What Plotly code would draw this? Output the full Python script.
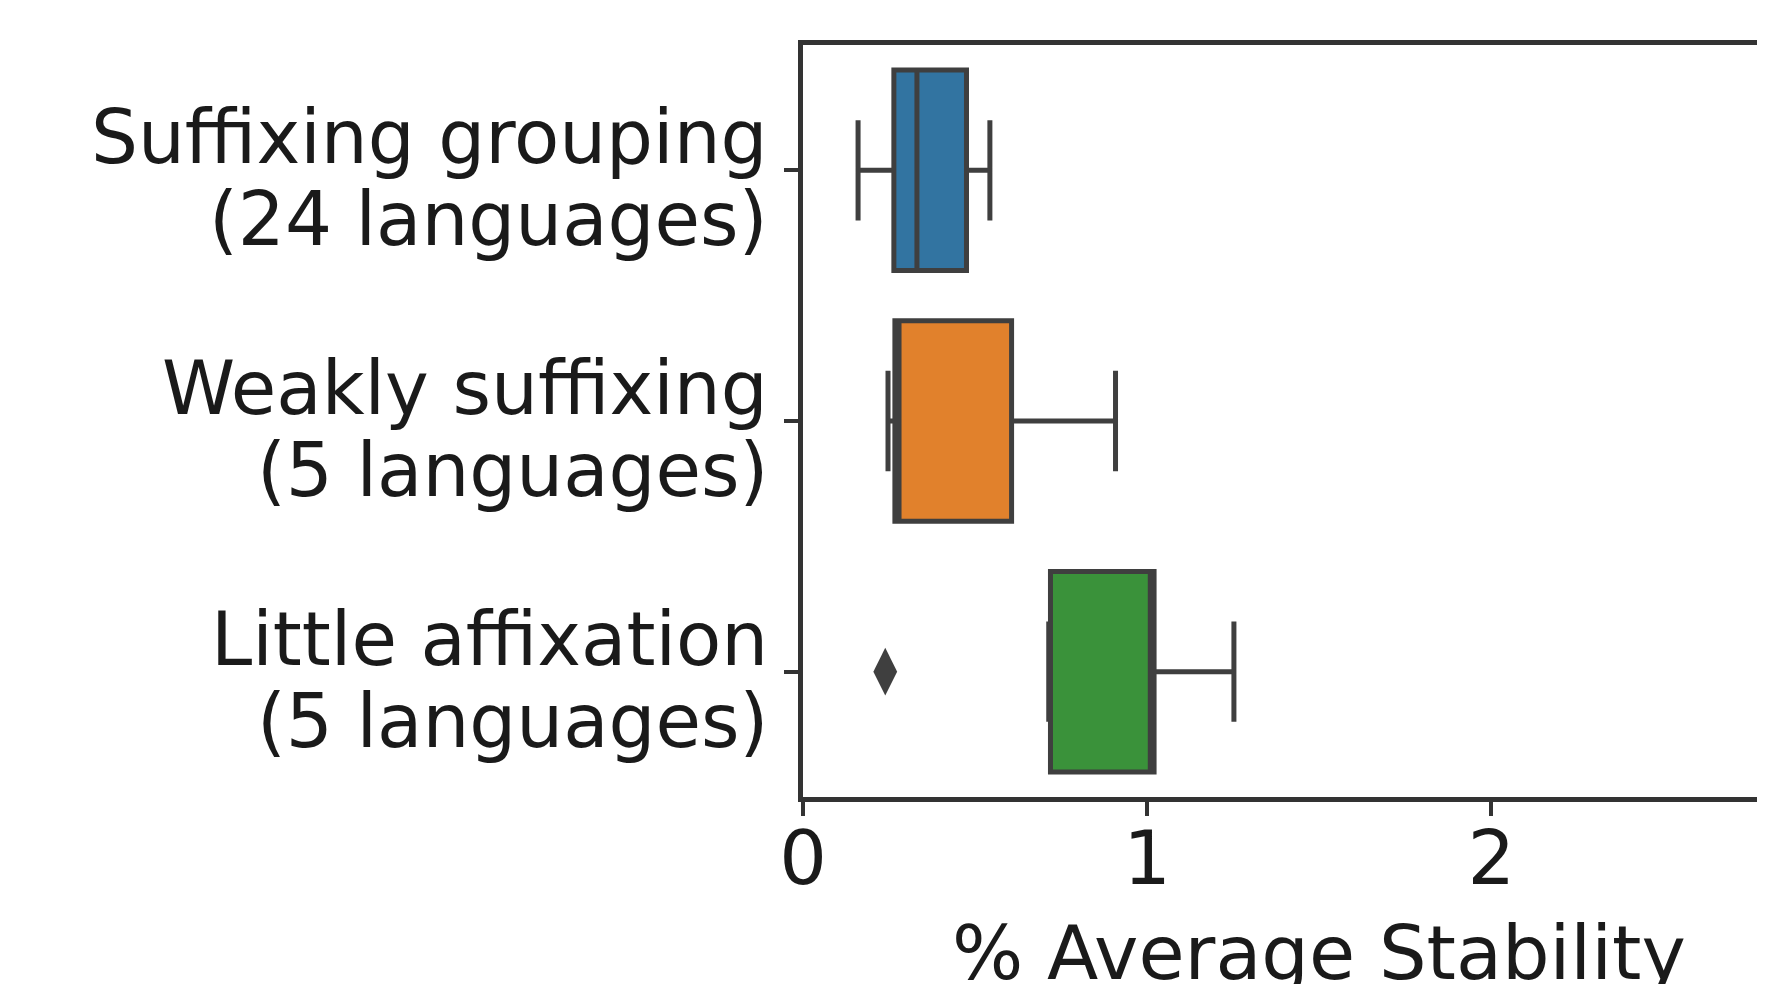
import plotly.graph_objects as go

categories = ["Suffixing grouping", "Weakly suffixing", "Little affixation"]
label_line1 = ["Suffixing grouping", "Weakly suffixing", "Little affixation"]
label_line2 = ["(24 languages)", "(5 languages)", "(5 languages)"]
lower_whisker = [0.160, 0.247, 0.714]
q1_vals = [0.264, 0.267, 0.719]
median_vals = [0.331, 0.279, 1.009]
q3_vals = [0.475, 0.606, 1.020]
upper_whisker = [0.543, 0.908, 1.252]
outlier_cats = ["Little affixation"]
outlier_vals = [0.239]
x_ticks = [0, 1, 2]
colors = ["#3274a1", "#e1812c", "#3a923a"]
edge = "#3f3f3f"
FONT = "DejaVu Sans"
TXT = "#1a1a1a"

fig = go.Figure()
for i, cat in enumerate(categories):
    fig.add_trace(go.Box(
        y=[cat], q1=[q1_vals[i]], median=[median_vals[i]], q3=[q3_vals[i]],
        lowerfence=[lower_whisker[i]], upperfence=[upper_whisker[i]],
        orientation="h", width=0.8, whiskerwidth=0.5,
        fillcolor=colors[i], line=dict(color=edge, width=5),
        boxpoints=False, showlegend=False, hoverinfo="skip",
    ))

fig.add_trace(go.Scatter(
    x=outlier_vals, y=outlier_cats, mode="markers",
    marker=dict(symbol="diamond-tall", size=34, color=edge, line=dict(width=0)),
    showlegend=False, hoverinfo="skip",
))

# page body has an 8px margin, so the figure is 8px smaller than the window
fig.update_layout(
    width=1757, height=976,
    margin=dict(l=795, r=0, t=37, b=187),
    paper_bgcolor="white", plot_bgcolor="white",
    font=dict(family=FONT, size=75, color=TXT),
    boxmode="overlay",
)
fig.update_xaxes(
    range=[0, 2.795], tickvals=x_ticks, ticktext=[str(v) for v in x_ticks],
    showgrid=False, zeroline=False,
    showline=True, linecolor="#333333", linewidth=5, mirror=True,
    ticks="outside", ticklen=14, tickwidth=4, tickcolor="#333333",
    tickfont=dict(family=FONT, size=75, color=TXT),
    ticklabelstandoff=-22,
)
fig.update_yaxes(
    type="category", categoryorder="array", categoryarray=categories,
    range=[2.5, -0.5],
    showticklabels=False,
    showgrid=False, zeroline=False,
    showline=True, linecolor="#333333", linewidth=5, mirror=False,
    ticks="outside", ticklen=14, tickwidth=4, tickcolor="#333333",
)
for i, cat in enumerate(categories):
    for txt, shift in ((label_line1[i], 33), (label_line2[i], -49)):
        fig.add_annotation(
            x=0, xref="paper", xanchor="right", xshift=-33,
            y=cat, yref="y", yanchor="middle", yshift=shift,
            text=txt, showarrow=False,
            font=dict(family=FONT, size=74, color=TXT),
        )
fig.add_annotation(
    x=1.5, xref="x", y=0, yref="paper", yanchor="top",
    text="% Average Stability", showarrow=False, yshift=-110,
    font=dict(family=FONT, size=75, color=TXT),
)

fig.write_html("out.html")
